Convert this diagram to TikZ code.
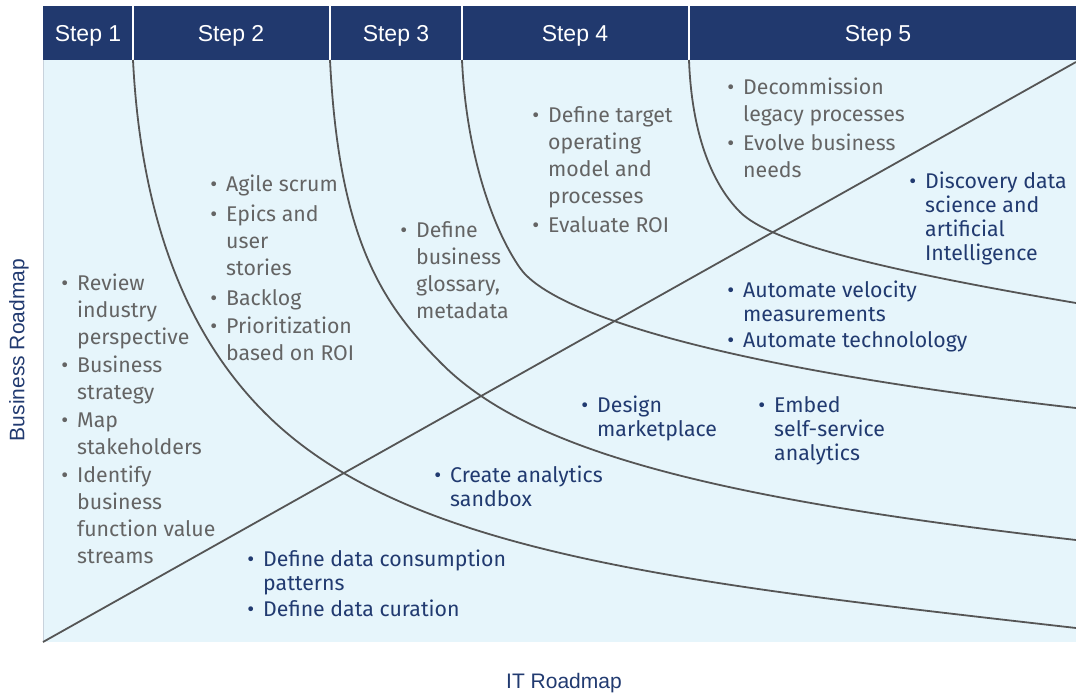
\documentclass[tikz,border=0pt]{standalone}
\usepackage{fontspec}
\setmainfont{Fira Sans}
\newfontfamily\headfont{Liberation Sans}

\definecolor{headnavy}{RGB}{33,57,110}
\definecolor{panelblue}{RGB}{230,245,251}
\definecolor{paneledge}{RGB}{200,210,220}
\definecolor{bizgrey}{RGB}{100,100,100}
\definecolor{itnavy}{RGB}{33,58,112}
\definecolor{curvegrey}{RGB}{85,85,85}

% bullet hung to the left of the first line of an item
\newcommand{\bul}{\llap{\textbullet\hspace{9pt}}}
\newcommand{\blist}[1]{\begin{tabular}[t]{@{}l@{}}#1\end{tabular}}

\tikzset{
  header/.style={fill=headnavy},
  divider/.style={draw=white, line width=1.6pt},
  steplabel/.style={text=white, font=\headfont\fontsize{23}{27}\selectfont, anchor=center},
  curve/.style={draw=curvegrey, line width=1.8pt},
  bizlist/.style={text=bizgrey, anchor=base west, inner sep=0pt,
    font=\fontsize{21.3}{27}\selectfont},
  itlist/.style={text=itnavy, anchor=base west, inner sep=0pt,
    font=\fontsize{21.3}{24}\selectfont},
  axislabel/.style={text=itnavy, font=\headfont\fontsize{21}{25}\selectfont, anchor=center}
}

\begin{document}
\begin{tikzpicture}[x=1pt,y=-1pt]
\useasboundingbox (0,0) rectangle (1076,695);

% background panel and step header
\fill[panelblue] (43,60) rectangle (1076,642);
\draw[paneledge, line width=0.8pt] (43,60) -- (43,642);
\fill[header] (43,6) rectangle (1076,60);
\foreach \x in {133,330,462,689} \draw[divider] (\x,6) -- (\x,60);

\node[steplabel] (s1) at (88,36) {Step 1};
\node[steplabel] (s2) at (231,36) {Step 2};
\node[steplabel] (s3) at (396,36) {Step 3};
\node[steplabel] (s4) at (575,36) {Step 4};
\node[steplabel] (s5) at (878,36) {Step 5};

% step boundaries sweeping down to the right
\draw[curve] (133,60) .. controls (142.5,250) and (205,353) .. (265,413)
                      .. controls (405,553) and (676,582.4) .. (1076,628);
\draw[curve] (330,60) .. controls (339,240) and (382,304) .. (442,364)
                      .. controls (532,454) and (726,500) .. (1076,540);
\draw[curve] (462,60) .. controls (466,150) and (491.5,227) .. (520,268)
                      .. controls (548.5,309) and (696,364.7) .. (1076,408);
\draw[curve] (689,60) .. controls (692,140) and (715,187) .. (740,212)
                      .. controls (770,242) and (876,269) .. (1076,303);

% rising diagonal
\coordinate (origin) at (43,642);
\coordinate (diagend) at (1076,62);
\draw[curve] (origin) -- (diagend);

% business activities
\node[bizlist] (l1) at (77,290) {\blist{\bul Review\\ industry\\ perspective\\[1pt]
  \bul Business\\ strategy\\[1pt] \bul Map\\ stakeholders\\[1pt] \bul Identify\\ business\\ function value\\ streams}};
\node[bizlist] (l2) at (226,192) {\blist{\bul Agile scrum\\[3pt] \bul Epics and\\ user\\ stories\\[3pt]
  \bul Backlog\\[1pt] \bul Prioritization\\ based on ROI}};
\node[bizlist] (l3) at (416,237) {\blist{\bul Define\\ business\\ glossary,\\ metadata}};
\node[bizlist] (l4) at (548,123) {\blist{\bul Define target\\ operating\\ model and\\ processes\\[2pt] \bul Evaluate ROI}};
\node[bizlist] (l5) at (743,95) {\blist{\bul Decommission\\ legacy processes\\[2pt] \bul Evolve business\\ needs}};

% IT activities
\node[itlist] (t1) at (925,189) {\blist{\bul Discovery data\\ science and\\ artificial\\ Intelligence}};
\node[itlist] (t2) at (743,297) {\blist{\bul Automate velocity\\ measurements\\[2pt] \bul Automate technolology}};
\node[itlist] (t3) at (597,412) {\blist{\bul Design\\ marketplace}};
\node[itlist] (t4) at (774,412) {\blist{\bul Embed\\ self-service\\ analytics}};
\node[itlist] (t5) at (450,482) {\blist{\bul Create analytics\\ sandbox}};
\node[itlist] (t6) at (263,566) {\blist{\bul Define data consumption\\ patterns\\[2pt] \bul Define data curation}};

% axes
\node[axislabel, rotate=90] (yaxis) at (19,350) {Business Roadmap};
\node[axislabel] (xaxis) at (564,683) {IT Roadmap};
\end{tikzpicture}
\end{document}
